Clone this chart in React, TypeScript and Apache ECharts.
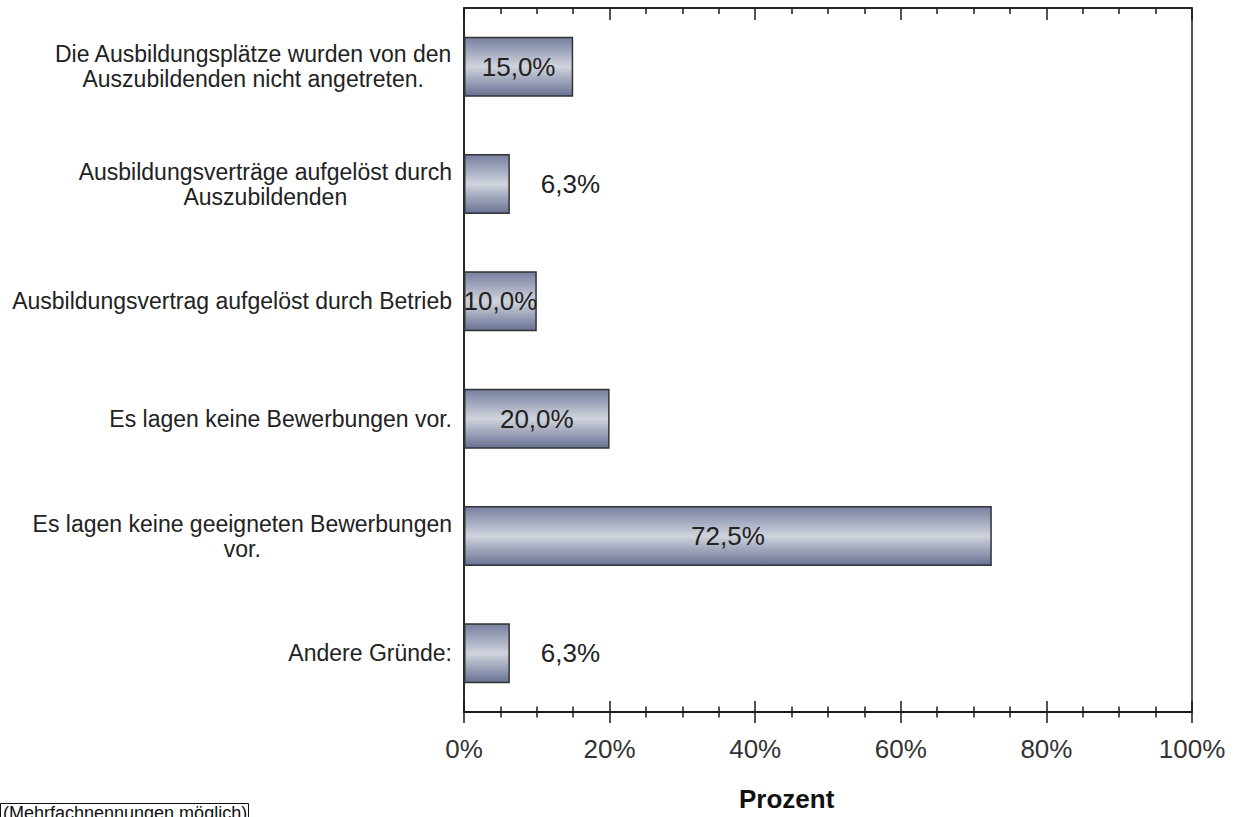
import React, { useEffect, useRef } from "react";
import * as echarts from "echarts";

const categories: string[] = [
  "Die Ausbildungsplätze wurden von den\nAuszubildenden nicht angetreten.",
  "Ausbildungsverträge aufgelöst durch\nAuszubildenden",
  "Ausbildungsvertrag aufgelöst durch Betrieb",
  "Es lagen keine Bewerbungen vor.",
  "Es lagen keine geeigneten Bewerbungen\nvor.",
  "Andere Gründe:",
];
const values: number[] = [15.0, 6.3, 10.0, 20.0, 72.5, 6.3];
const axisName = "Prozent";
const footNote = "(Mehrfachnennungen möglich)";

const FONT = "'Liberation Sans', Arial, Helvetica, sans-serif";

export default function App() {
  const ref = useRef<HTMLDivElement>(null);
  useEffect(() => {
    if (!ref.current) return;
    const chart = echarts.init(ref.current, undefined, { renderer: "svg" });
    const grid = { left: 464, top: 8, right: 50, bottom: 105 };
    const baseX = {
      type: "value" as const,
      min: 0,
      max: 100,
      interval: 20,
      gridIndex: 0,
      splitLine: { show: false },
      axisLine: { show: true, lineStyle: { color: "#1a1a1a", width: 1.5 } },
    };
    const barGrad = new echarts.graphic.LinearGradient(0, 0, 0, 1, [
      { offset: 0, color: "#767fa0" },
      { offset: 0.5, color: "#d0d4dd" },
      { offset: 1, color: "#687193" },
    ]);
    chart.setOption({
      animation: false,
      backgroundColor: "#ffffff",
      grid: {
        ...grid,
        show: true,
        borderColor: "#1a1a1a",
        borderWidth: 1.5,
        backgroundColor: "transparent",
        containLabel: false,
      },
      xAxis: [
        {
          ...baseX,
          position: "bottom",
          axisTick: { show: true, inside: false, length: 11, lineStyle: { color: "#1a1a1a", width: 1.5 } },
          minorTick: { show: true, splitNumber: 4, length: 5.5, lineStyle: { color: "#1a1a1a", width: 1.5 } },
          axisLabel: {
            show: true,
            formatter: "{value}%",
            margin: 24,
            fontSize: 26,
            fontFamily: FONT,
            color: "#333333",
          },
        },
        {
          ...baseX,
          position: "bottom",
          axisTick: { show: true, inside: true, length: 11, lineStyle: { color: "#1a1a1a", width: 1.5 } },
          minorTick: { show: true, splitNumber: 4, length: 5.5, lineStyle: { color: "#1a1a1a", width: 1.5 } },
          axisLabel: { show: false },
        },
        {
          ...baseX,
          position: "top",
          axisTick: { show: true, inside: true, length: 12, lineStyle: { color: "#1a1a1a", width: 1.5 } },
          minorTick: { show: true, splitNumber: 4, length: 6, lineStyle: { color: "#1a1a1a", width: 1.5 } },
          axisLabel: { show: false },
        },
      ],
      yAxis: {
        type: "category",
        data: categories,
        inverse: true,
        axisLine: { show: true, lineStyle: { color: "#1a1a1a", width: 1.5 } },
        axisTick: { show: false },
        splitLine: { show: false },
        axisLabel: {
          margin: 12,
          color: "#222222",
          formatter: (v: string) =>
            v
              .split("\n")
              .map((l) => `{c|${l}}`)
              .join("\n"),
          rich: {
            c: {
              align: "center",
              fontSize: 23,
              lineHeight: 25,
              fontFamily: FONT,
              color: "#222222",
            },
          },
        },
      },
      series: [
        {
          type: "bar",
          xAxisIndex: 0,
          barWidth: 60,
          data: values.map((v) => ({
            value: v,
            label: {
              show: true,
              position: v < 8 ? "right" : "inside",
              distance: 31,
            },
          })),
          itemStyle: {
            color: barGrad,
            borderColor: "#333333",
            borderWidth: 1.5,
          },
          label: {
            show: true,
            fontSize: 26,
            fontFamily: FONT,
            color: "#222222",
            formatter: (p: any) => `${Number(p.value).toFixed(1).replace(".", ",")}%`,
          },
        },
      ],
      graphic: [
        {
          type: "text",
          left: 791 - 52,
          top: 786,
          style: {
            text: axisName,
            font: `bold 26px ${FONT}`,
            fill: "#111111",
          },
        },
        {
          type: "rect",
          shape: { x: 0.5, y: 803.5, width: 248, height: 30 },
          style: { fill: "#ffffff", stroke: "#111111", lineWidth: 1 },
        },
        {
          type: "text",
          x: 3,
          y: 804,
          style: {
            text: footNote,
            font: `18px ${FONT}`,
            fill: "#111111",
            verticalAlign: "top",
          },
        },
      ],
    });
    return () => chart.dispose();
  }, []);
  return (
    <div
      ref={ref}
      style={{ position: "fixed", left: 0, top: 0, width: 1242, height: 817, background: "#fff" }}
    />
  );
}
